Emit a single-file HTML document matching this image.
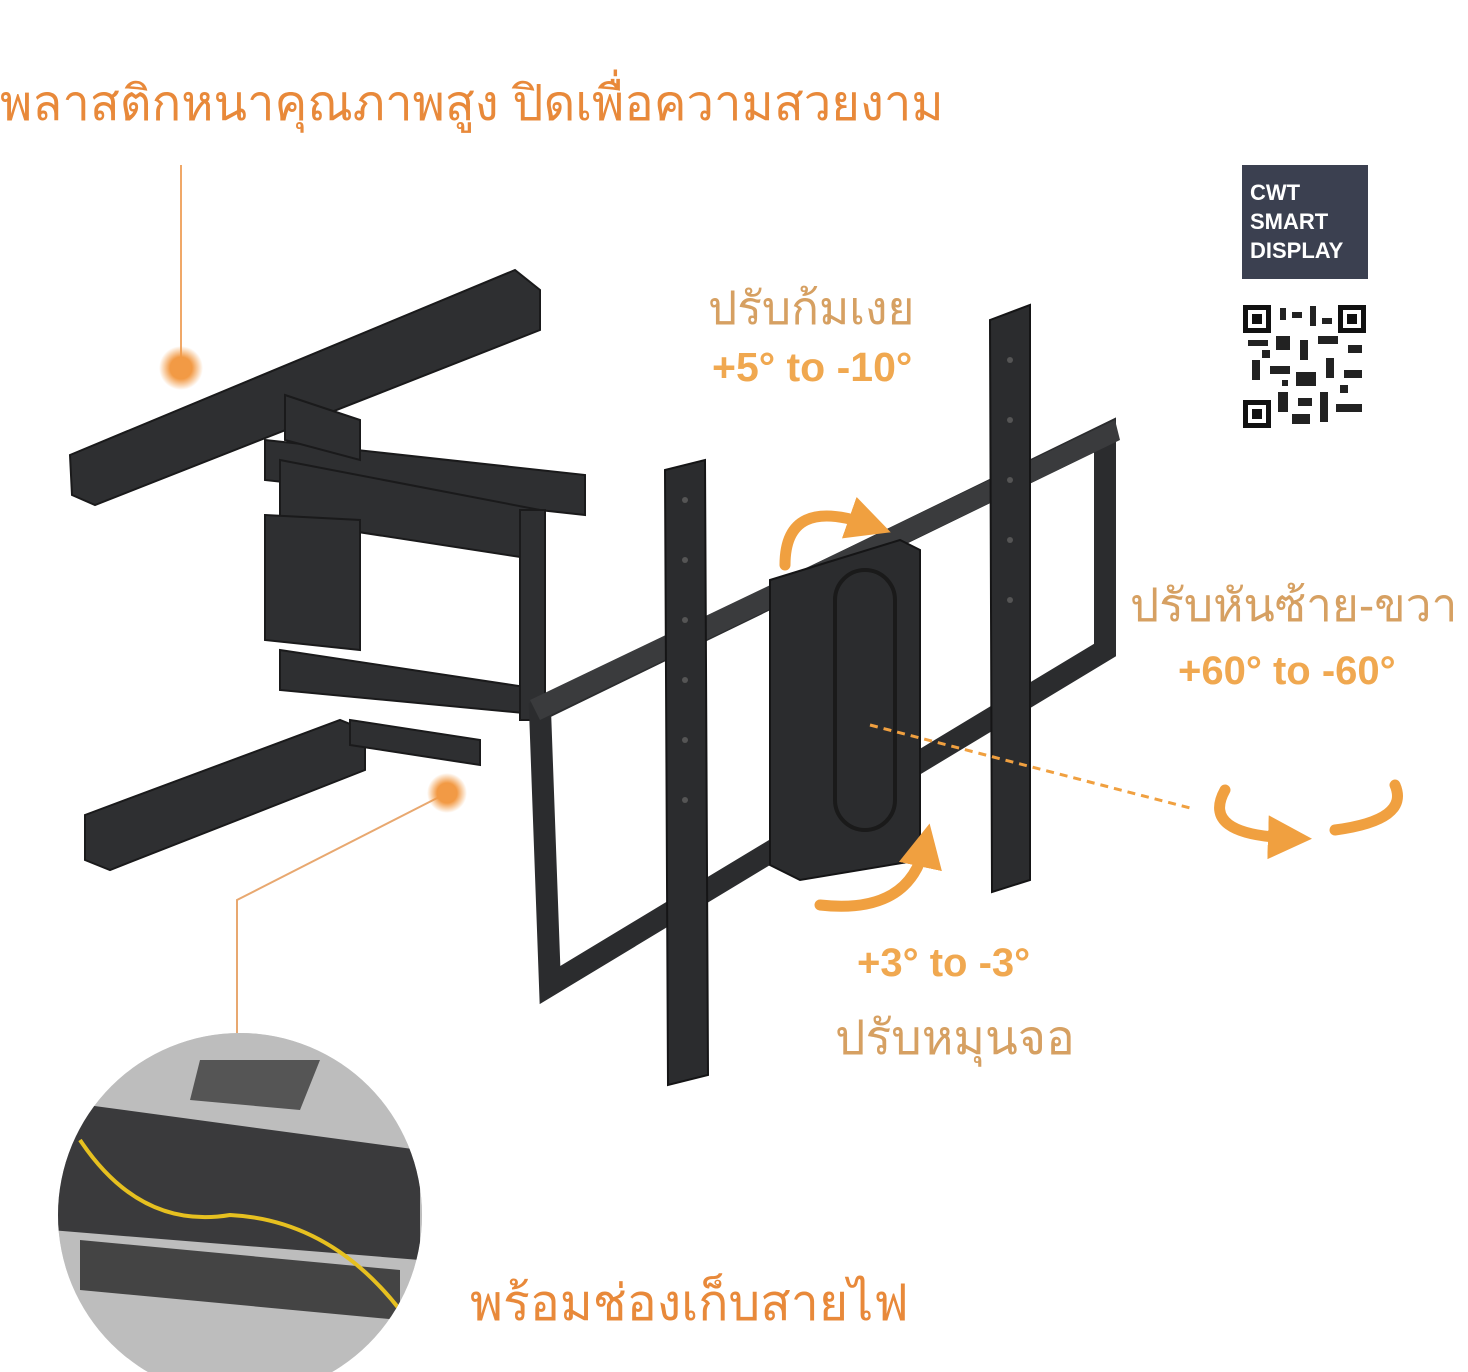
<!DOCTYPE html>
<html><head><meta charset="utf-8"><style>
html,body{margin:0;padding:0;background:#fff;}
body{width:1468px;height:1372px;position:relative;overflow:hidden;font-family:"Liberation Sans","DejaVu Sans",sans-serif;}
.t{position:absolute;white-space:nowrap;}
</style></head><body>
<svg width="1468" height="1372" style="position:absolute;left:0;top:0">
<defs>
<radialGradient id="dot"><stop offset="0.5" stop-color="#f29a45"/><stop offset="1" stop-color="#f29a45" stop-opacity="0"/></radialGradient>
<clipPath id="cc"><circle cx="240" cy="1215" r="182"/></clipPath>
<marker id="ah" markerWidth="4" markerHeight="4" refX="2" refY="2" orient="auto"><path d="M0,0 L4,2 L0,4 z" fill="#f0a040"/></marker>
</defs>
<line x1="181" y1="165" x2="181" y2="365" stroke="#f0a868" stroke-width="2"/>
<circle cx="181" cy="368" r="22" fill="url(#dot)"/>
<polyline points="447,793 237,900 237,1045" fill="none" stroke="#e8a870" stroke-width="2"/>
<circle cx="447" cy="793" r="20" fill="url(#dot)"/>
<g fill="#2e2f31" stroke="#1a1a1b" stroke-width="2">
<polygon points="70,455 515,270 540,290 540,330 95,505 72,495"/>
<polygon points="85,815 340,720 365,730 365,770 110,870 85,860"/>
<polygon points="265,440 585,475 585,515 265,480"/>
<polygon points="280,460 540,510 540,560 280,520"/>
<polygon points="265,515 360,520 360,650 265,640"/>
<polygon points="280,650 545,690 545,715 280,690"/>
<polygon points="350,720 480,740 480,765 350,745"/>
<polygon points="520,510 545,510 545,720 520,720"/>
<polygon points="285,395 360,420 360,460 285,440"/>
</g>
<g fill="none" stroke="#2b2c2e" stroke-width="22">
<polygon points="540,710 1105,435 1105,650 550,985"/>
</g>
<polygon points="530,700 1115,420 1120,440 540,720" fill="#3a3b3d"/>
<g fill="#2b2c2e" stroke="#151516" stroke-width="2">
<polygon points="665,470 705,460 708,1075 668,1085"/>
<polygon points="990,320 1030,305 1030,880 992,892"/>
<polygon points="770,580 900,540 920,550 920,860 800,880 770,865"/>
</g>
<rect x="835" y="570" width="60" height="260" rx="30" fill="none" stroke="#1a1a1a" stroke-width="4"/>
<g fill="#555">
<circle cx="685" cy="500" r="3"/><circle cx="685" cy="560" r="3"/><circle cx="685" cy="620" r="3"/><circle cx="685" cy="680" r="3"/><circle cx="685" cy="740" r="3"/><circle cx="685" cy="800" r="3"/>
<circle cx="1010" cy="360" r="3"/><circle cx="1010" cy="420" r="3"/><circle cx="1010" cy="480" r="3"/><circle cx="1010" cy="540" r="3"/><circle cx="1010" cy="600" r="3"/>
</g>
<g fill="none" stroke="#f0a040" stroke-width="11" stroke-linecap="round">
<path d="M785,565 Q785,495 870,525" marker-end="url(#ah)"/>
<path d="M820,905 Q910,915 925,845" marker-end="url(#ah)"/>
<path d="M1225,790 Q1200,835 1290,838" marker-end="url(#ah)"/>
<path d="M1335,830 Q1410,820 1395,785"/>
</g>
<line x1="870" y1="725" x2="1190" y2="808" stroke="#f0a040" stroke-width="3" stroke-dasharray="8,6"/>
<circle cx="240" cy="1215" r="182" fill="#d4d4d4"/>
<g clip-path="url(#cc)">
<rect x="50" y="1030" width="400" height="370" fill="#bdbdbd"/>
<polygon points="50,1100 420,1150 420,1260 50,1230" fill="#3a3a3c"/>
<polygon points="80,1240 400,1270 400,1320 80,1290" fill="#444"/>
<polygon points="200,1060 320,1060 300,1110 190,1100" fill="#555"/>
<path d="M80,1140 Q140,1230 230,1215 Q330,1220 400,1310" fill="none" stroke="#e6c020" stroke-width="4"/>
</g>
<rect x="1242" y="165" width="126" height="114" fill="#3b4050"/>
<text x="1250" y="200" fill="#fff" font-size="22" font-weight="bold" font-family="Liberation Sans">CWT</text>
<text x="1250" y="229" fill="#fff" font-size="22" font-weight="bold" font-family="Liberation Sans">SMART</text>
<text x="1250" y="258" fill="#fff" font-size="22" font-weight="bold" font-family="Liberation Sans">DISPLAY</text>
<rect x="1243" y="305" width="123" height="123" fill="#fff"/>
<g fill="#111">
<rect x="1243" y="305" width="28" height="28"/><rect x="1338" y="305" width="28" height="28"/><rect x="1243" y="400" width="28" height="28"/>
</g>
<g fill="#fff"><rect x="1248" y="310" width="18" height="18"/><rect x="1343" y="310" width="18" height="18"/><rect x="1248" y="405" width="18" height="18"/></g>
<g fill="#111"><rect x="1252" y="314" width="10" height="10"/><rect x="1347" y="314" width="10" height="10"/><rect x="1252" y="409" width="10" height="10"/></g>
<g fill="#222">
<rect x="1280" y="308" width="6" height="12"/><rect x="1292" y="312" width="10" height="6"/><rect x="1310" y="306" width="6" height="20"/><rect x="1322" y="318" width="10" height="6"/>
<rect x="1248" y="340" width="20" height="6"/><rect x="1276" y="336" width="14" height="14"/><rect x="1300" y="340" width="8" height="20"/><rect x="1318" y="336" width="20" height="8"/><rect x="1348" y="345" width="14" height="8"/>
<rect x="1252" y="360" width="8" height="20"/><rect x="1270" y="366" width="20" height="8"/><rect x="1296" y="372" width="20" height="14"/><rect x="1326" y="358" width="8" height="20"/><rect x="1344" y="370" width="18" height="8"/>
<rect x="1278" y="392" width="10" height="20"/><rect x="1298" y="398" width="14" height="8"/><rect x="1320" y="392" width="8" height="30"/><rect x="1336" y="404" width="26" height="8"/><rect x="1292" y="414" width="18" height="10"/>
<rect x="1262" y="350" width="8" height="8"/><rect x="1340" y="385" width="8" height="8"/><rect x="1282" y="380" width="6" height="6"/>
</g>
</svg>
<div class="t" style="left:0;top:64px;font-size:49px;color:#e8893a">พลาสติกหนาคุณภาพสูง ปิดเพื่อความสวยงาม</div>
<div class="t" style="left:708px;top:272px;font-size:46px;color:#d6a062">ปรับก้มเงย</div>
<div class="t" style="left:712px;top:344px;font-size:41px;font-weight:bold;color:#f0a850">+5° to -10°</div>
<div class="t" style="left:1130px;top:569px;font-size:46px;color:#d6a062">ปรับหันซ้าย-ขวา</div>
<div class="t" style="left:1178px;top:649px;font-size:40px;font-weight:bold;color:#f0a850">+60° to -60°</div>
<div class="t" style="left:857px;top:941px;font-size:40px;font-weight:bold;color:#f0a850">+3° to -3°</div>
<div class="t" style="left:835px;top:1000px;font-size:48px;color:#d6a062">ปรับหมุนจอ</div>
<div class="t" style="left:470px;top:1264px;font-size:50px;color:#e8893a">พร้อมช่องเก็บสายไฟ</div>
</body></html>
